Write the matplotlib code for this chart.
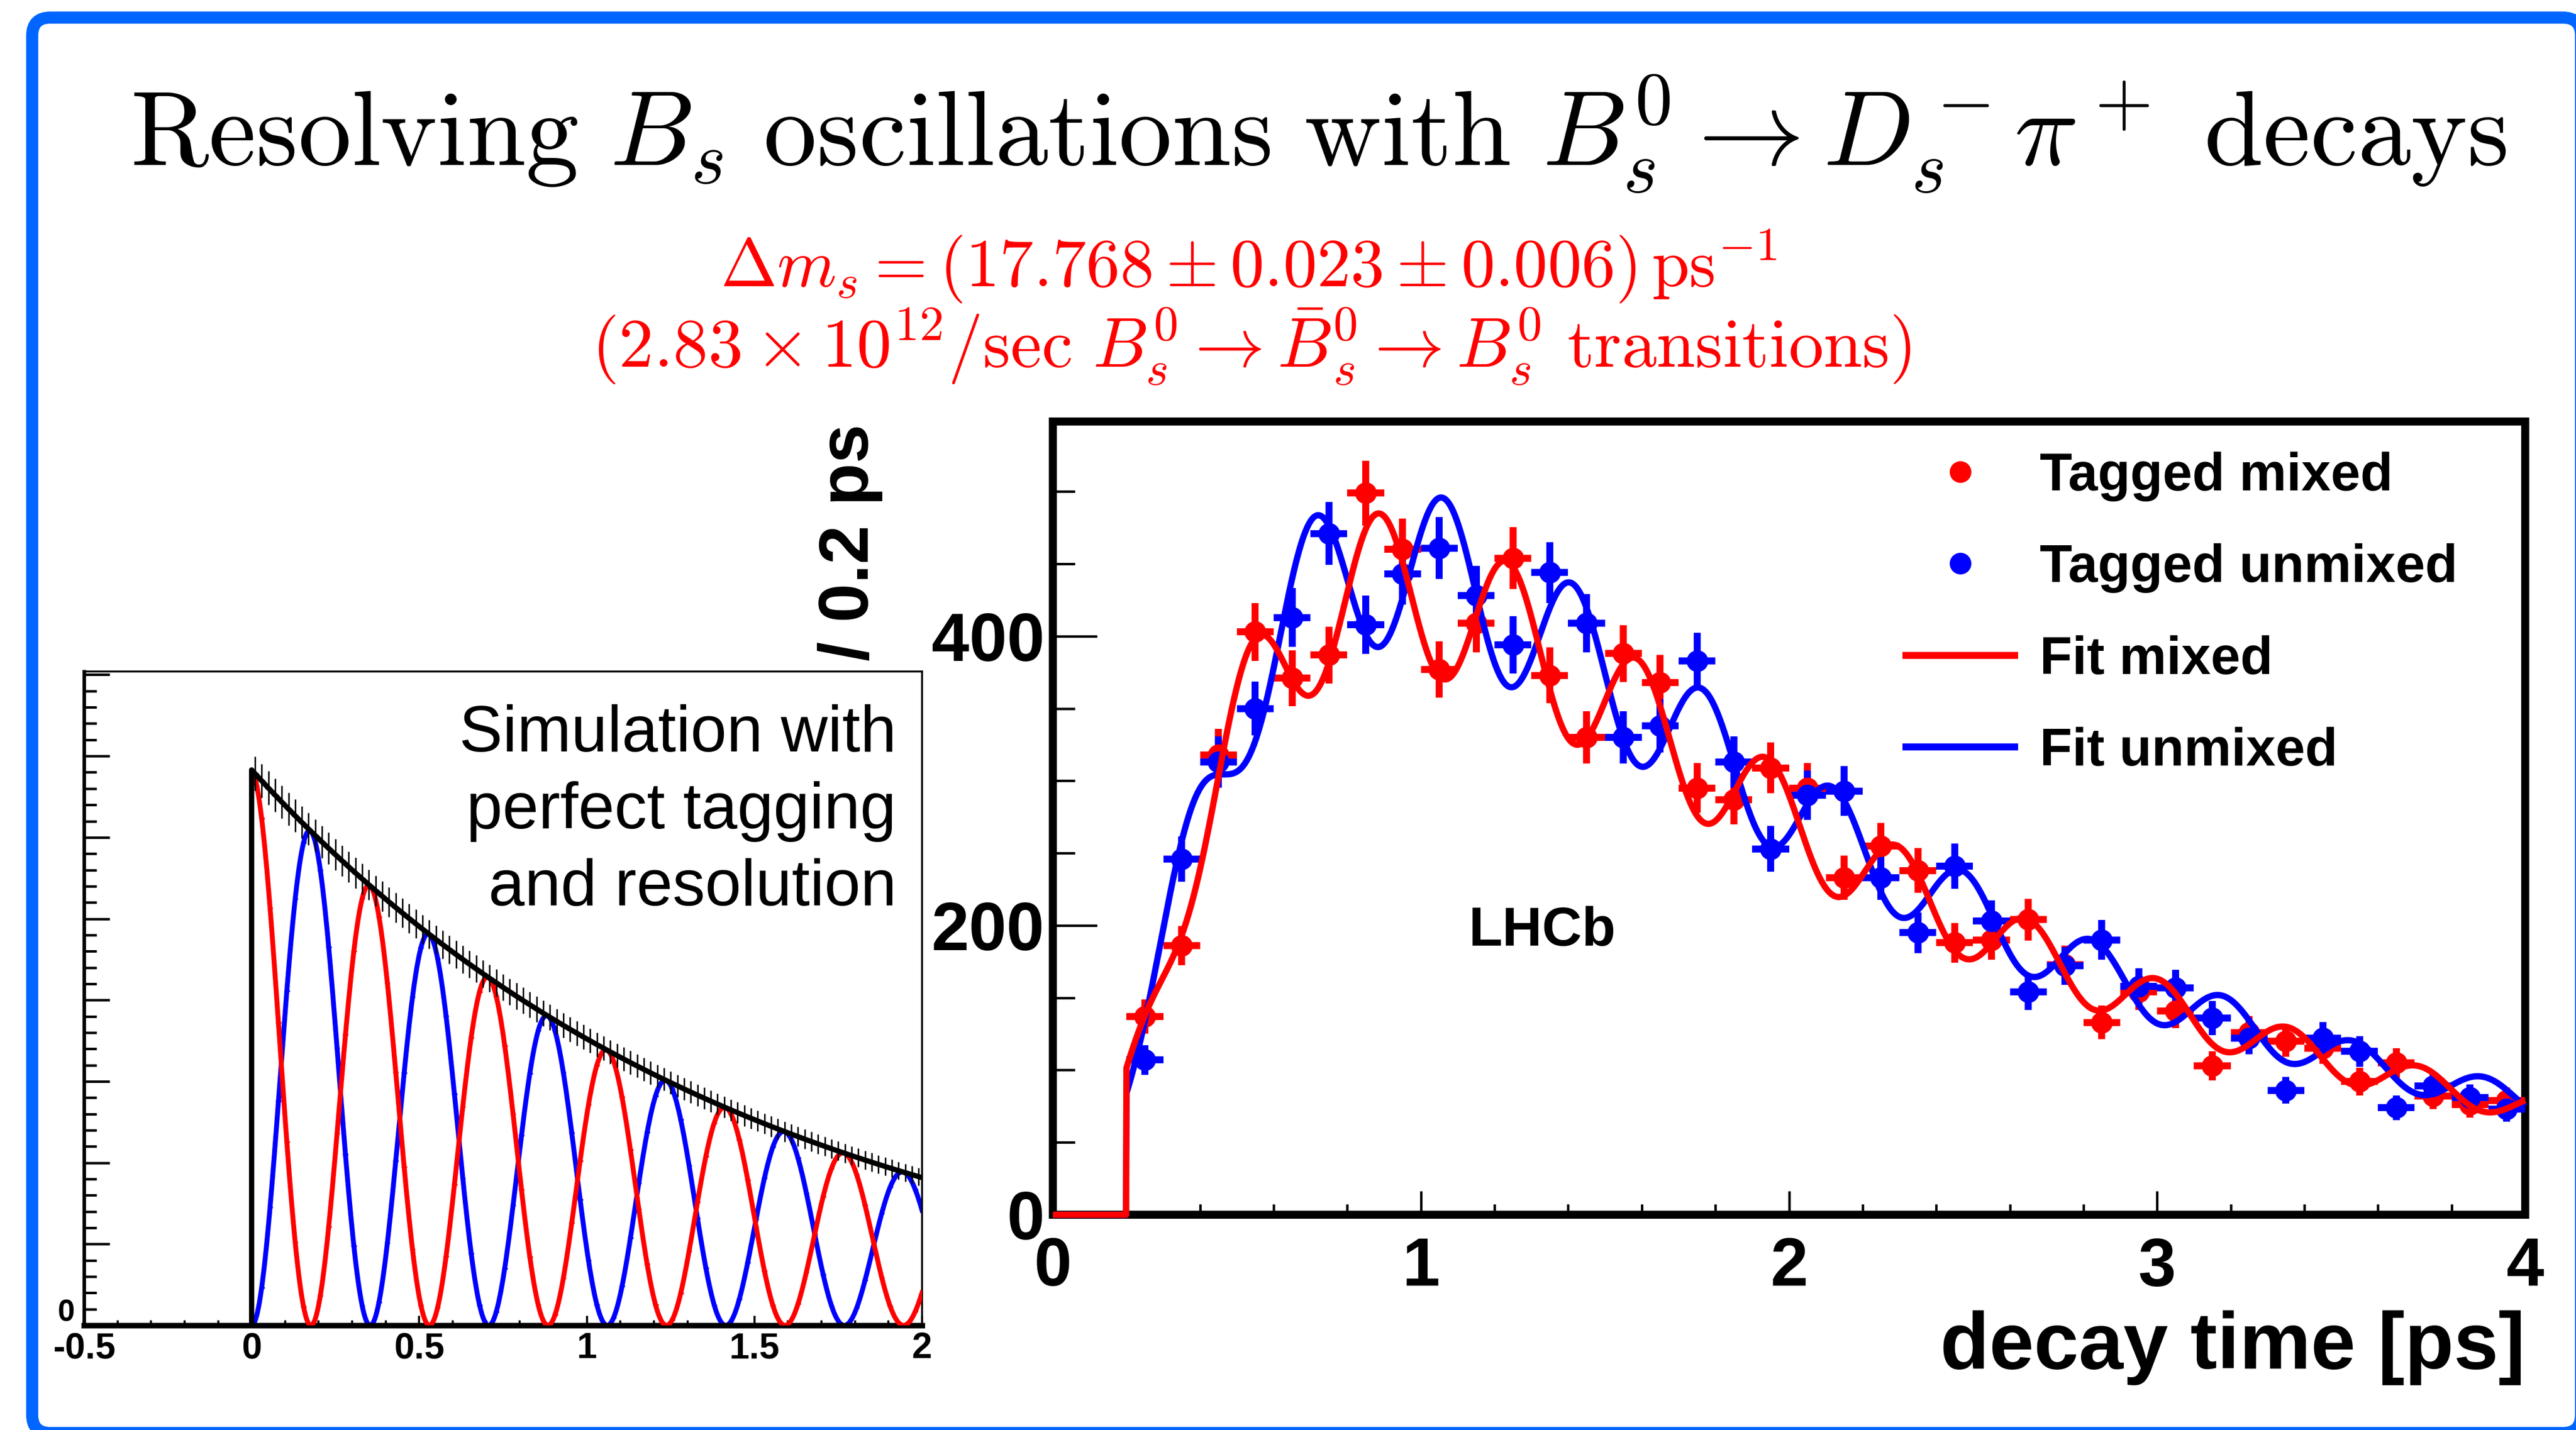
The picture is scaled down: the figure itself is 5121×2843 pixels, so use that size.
import numpy as np
import matplotlib.pyplot as plt
import matplotlib as mpl
from matplotlib.patches import FancyBboxPatch
from matplotlib.lines import Line2D
from matplotlib.ticker import MultipleLocator, FuncFormatter, NullFormatter

mpl.rcParams['mathtext.fontset'] = 'cm'
mpl.rcParams['font.family'] = ['Liberation Sans', 'DejaVu Sans']

W, H = 5121, 2843          # canvas in pixels (dpi 100)
RED = '#ff0000'
BLUE = '#0000ff'
FRAME = '#0066ff'

# tagged decay-time histogram (bin centres in ps, candidates per bin)
t_centres = [0.25, 0.35, 0.45, 0.55, 0.65, 0.75, 0.85, 0.95, 1.05, 1.15,
             1.25, 1.35, 1.45, 1.55, 1.65, 1.75, 1.85, 1.95, 2.05, 2.15,
             2.25, 2.35, 2.45, 2.55, 2.65, 2.75, 2.85, 2.95, 3.05, 3.15,
             3.25, 3.35, 3.45, 3.55, 3.65, 3.75, 3.85, 3.95]
mixed = [137, 186, 318, 403, 371, 387, 499, 460, 377, 409,
         454, 373, 330, 388, 368, 295, 287, 309, 295, 233,
         255, 238, 188, 190, 204, 173, 133, 154, 141, 103,
         126, 120, 115, 92, 105, 82, 76, 79]
unmixed = [107, 246, 313, 350, 413, 471, 408, 443, 461, 428,
           394, 444, 409, 330, 338, 383, 313, 253, 290, 293,
           233, 195, 241, 203, 154, 172, 190, 158, 157, 136,
           122, 86, 122, 113, 74, 89, 81, 73]
bin_half = 0.05

# fit result
dm_s = 17.768        # ps^-1
tau_s = 1.50         # ps
t_min = 0.2          # lower decay-time cut
acc_norm = 1130.0
acc_rate = 1.7
acc_power = 2.1
dilution = 0.125
norm_unmixed = 1.02
norm_mixed = 0.98

# perfect-tagging simulation
sim_n0 = 683.0
sim_tau = 1.51


def acceptance(t):
    x = (acc_rate * t) ** acc_power
    return np.where(t >= t_min, acc_norm * x / (1 + x), 0.0)


def fit_pdf(t, sign, norm):
    return norm * acceptance(t) * np.exp(-t / tau_s) * (1 + sign * dilution * np.cos(dm_s * t))


def px(x, y):
    return x / W, 1 - y / H


fig = plt.figure(figsize=(W / 100, H / 100), dpi=100, facecolor='white')

# slide background with rounded frame, pixel coordinates
bg = fig.add_axes([0, 0, 1, 1])
bg.set_xlim(0, W)
bg.set_ylim(H, 0)
bg.axis('off')
bg.add_patch(FancyBboxPatch((64, 35), 5131 - 64, 2849 - 35,
                            boxstyle='round,pad=0,rounding_size=36',
                            lw=17.3, ec=FRAME, fc='white', clip_on=False))

bg.text(2621, 329,
        r'$\mathrm{Resolving}\ B_s\ \mathrm{oscillations\ with}\ '
        r'B^0_s \rightarrow D^-_s\pi^+\ \mathrm{decays}$',
        fontsize=152.5, ha='center', va='baseline', color='black')
bg.text(2482, 569,
        r'$\Delta m_s = (17.768 \pm 0.023 \pm 0.006)\,\mathrm{ps}^{-1}$',
        fontsize=97, ha='center', va='baseline', color=RED)
bg.text(2488, 730,
        r'$(2.83\times 10^{12}/\mathrm{sec}\ B^0_s \rightarrow \bar{B}^0_s'
        r' \rightarrow B^0_s\ \mathrm{transitions})$',
        fontsize=100, ha='center', va='baseline', color=RED)

# ---- LHCb measurement ----
x0, y0 = px(2093, 2415)
x1, y1 = px(5020, 838)
ax = fig.add_axes([x0, y0, x1 - x0, y1 - y0])
ax.set_xlim(0, 4)
ax.set_ylim(0, 548.5)

ax.errorbar(t_centres, mixed, xerr=bin_half, yerr=np.sqrt(mixed), fmt='o',
            color=RED, ms=30, elinewidth=10, capsize=0, zorder=3)
ax.errorbar(t_centres, unmixed, xerr=bin_half, yerr=np.sqrt(unmixed), fmt='o',
            color=BLUE, ms=30, elinewidth=10, capsize=0, zorder=3)

tt = np.linspace(0, 4, 4001)
ax.plot(tt, fit_pdf(tt, +1, norm_unmixed), color=BLUE, lw=9, zorder=4,
        clip_on=False, solid_capstyle='butt')
ax.plot(tt, fit_pdf(tt, -1, norm_mixed), color=RED, lw=9, zorder=5,
        clip_on=False, solid_capstyle='butt')

for s in ax.spines.values():
    s.set_linewidth(11.5)
ax.xaxis.set_major_locator(MultipleLocator(1))
ax.xaxis.set_minor_locator(MultipleLocator(0.2))
ax.yaxis.set_major_locator(MultipleLocator(200))
ax.yaxis.set_minor_locator(MultipleLocator(50))
ax.tick_params(axis='x', which='major', direction='in', length=34, width=3.5, pad=31)
ax.tick_params(axis='x', which='minor', direction='in', length=15, width=3.5)
ax.tick_params(axis='y', which='major', direction='in', length=63, width=3.5, pad=12)
ax.tick_params(axis='y', which='minor', direction='in', length=32, width=3.5)
ax.tick_params(labelsize=97)
for lab in ax.get_xticklabels() + ax.get_yticklabels():
    lab.set_fontweight('bold')

ax.text(1.0, -0.194, 'decay time [ps]', transform=ax.transAxes, fontsize=115,
        fontweight='bold', ha='right', va='baseline')
ax.text(-0.1377, 0.9968, '/ 0.2 ps', transform=ax.transAxes, fontsize=100,
        fontweight='bold', rotation=90, ha='center', va='top')
ax.text(1.13, 186, 'LHCb', fontsize=79, fontweight='bold', ha='left', va='baseline')

handles = [Line2D([], [], ls='none', marker='o', ms=30, color=RED),
           Line2D([], [], ls='none', marker='o', ms=30, color=BLUE),
           Line2D([], [], color=RED, lw=10),
           Line2D([], [], color=BLUE, lw=10)]
labels = ['Tagged mixed', 'Tagged unmixed', 'Fit mixed', 'Fit unmixed']
leg = ax.legend(handles, labels, loc='upper left', bbox_to_anchor=(0.5794, 0.962),
                frameon=False, borderpad=0, borderaxespad=0, handlelength=2.05,
                handletextpad=0.47, labelspacing=0.79,
                prop={'size': 76, 'weight': 'bold'})

# ---- simulation inset ----
x0, y0 = px(167, 2635)
x1, y1 = px(1833, 1335)
ins = fig.add_axes([x0, y0, x1 - x0, y1 - y0])
ins.set_xlim(-0.5, 2)
ins.set_ylim(0, 804)

ts = np.linspace(0, 2, 2001)
total = sim_n0 * np.exp(-ts / sim_tau)
sim_unmixed = total * (1 + np.cos(dm_s * ts)) / 2
sim_mixed = total * (1 - np.cos(dm_s * ts)) / 2
ins.plot(np.r_[0, ts], np.r_[0, sim_mixed], color=BLUE, lw=7, zorder=2)
ins.plot(np.r_[0, ts], np.r_[0, sim_unmixed], color=RED, lw=7, zorder=3)
ins.plot(np.r_[0, ts], np.r_[0, total], color='black', lw=7.5, zorder=4)

# simulated bins along the summed distribution
tb = np.arange(0.01, 2.0, 0.02)
tb_total = sim_n0 * np.exp(-tb / sim_tau)
ins.errorbar(tb, tb_total, xerr=0.01, yerr=np.sqrt(tb_total) * 0.8, fmt='none',
             ecolor='black', elinewidth=2.2, zorder=4)
tc = np.arange(0.005, 2.0, 0.025)
tc_total = sim_n0 * np.exp(-tc / sim_tau)
ins.errorbar(tc, tc_total * (1 + np.cos(dm_s * tc)) / 2, xerr=0.008, fmt='none',
             ecolor=RED, elinewidth=2.5, zorder=3)
ins.errorbar(tc, tc_total * (1 - np.cos(dm_s * tc)) / 2, xerr=0.008, fmt='none',
             ecolor=BLUE, elinewidth=2.5, zorder=2)

ins.spines['left'].set_linewidth(5)
ins.spines['bottom'].set_linewidth(8)
ins.spines['top'].set_linewidth(2.7)
ins.spines['right'].set_linewidth(2.7)
ins.xaxis.set_major_locator(MultipleLocator(0.5))
ins.xaxis.set_minor_locator(MultipleLocator(0.1))
ins.yaxis.set_major_locator(MultipleLocator(100))
ins.yaxis.set_minor_locator(MultipleLocator(20))
ins.xaxis.set_major_formatter(FuncFormatter(lambda v, p: '%g' % v))
ins.yaxis.set_major_formatter(NullFormatter())
ins.tick_params(axis='x', which='major', direction='in', length=14, width=3, pad=9)
ins.tick_params(axis='x', which='minor', direction='in', length=7, width=3)
ins.tick_params(axis='y', which='major', direction='in', length=37, width=3.6)
ins.tick_params(axis='y', which='minor', direction='in', length=18, width=3.6)
ins.tick_params(axis='x', labelsize=52)
for lab in ins.get_xticklabels():
    lab.set_fontweight('bold')
# origin label sits just above the "-0.5" tick label
ins.text(-0.5285, -3, '0', fontsize=44, fontweight='bold', ha='right',
         va='bottom', clip_on=False)

for line, yb in zip(['Simulation with', 'perfect tagging', 'and resolution'],
                    [1494, 1647, 1800]):
    fx, fy = px(1782, yb)
    fig.text(fx, fy, line, fontsize=93, ha='right', va='baseline', zorder=10)

fig.savefig('out.png', dpi=100)
